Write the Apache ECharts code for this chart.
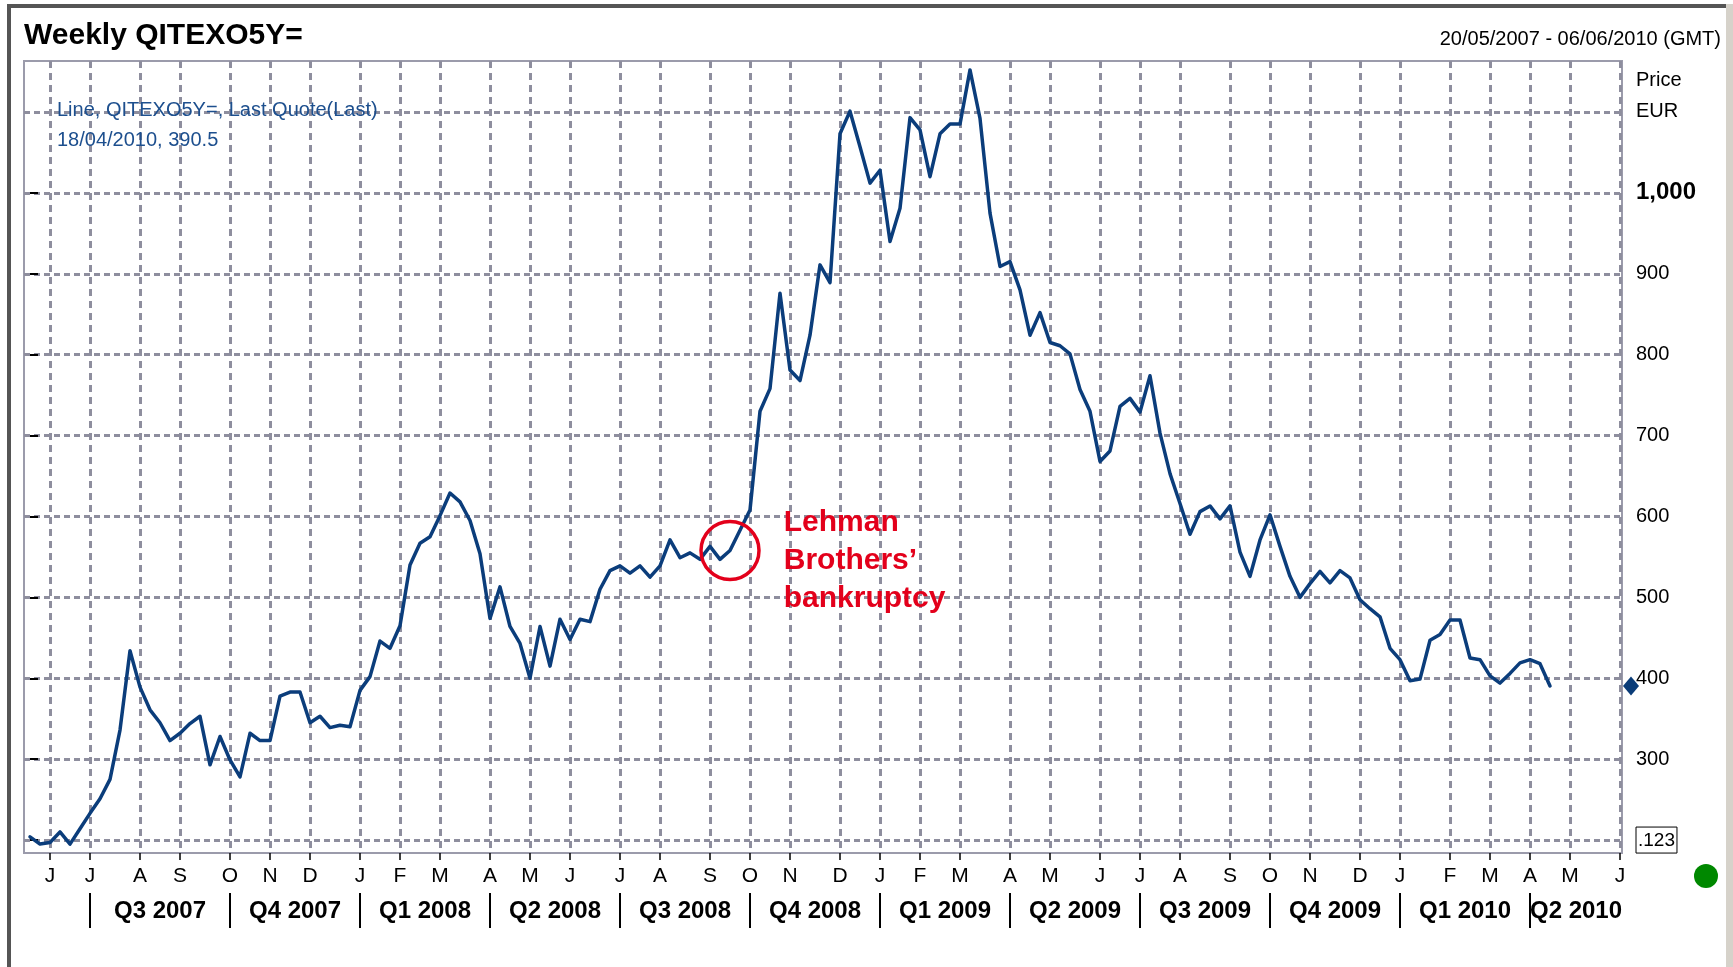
<!DOCTYPE html>
<html>
<head>
<meta charset="utf-8">
<title>Weekly QITEXO5Y=</title>
<script src="https://cdn.jsdelivr.net/npm/echarts@6.0.0/dist/echarts.min.js"></script>
<style>
html,body{margin:0;padding:0;background:#fff;}
#main{width:1733px;height:967px;}
</style>
</head>
<body>
<div id="main"></div>
<script>
// weekly last quote, week 0 = 20/05/2007 ... week 152 = 18/04/2010
var weekValues = [
  204,195,197,210,195,214,233,251,275,336,
  434,389,361,345,323,332,344,353,293,328,
  299,278,332,323,323,378,383,383,345,353,
  339,342,340,385,402,446,437,465,540,567,
  575,601,629,618,595,554,474,513,464,443,
  400,464,415,473,448,473,470,510,533,539,
  530,539,525,539,571,549,555,547,563,547,
  558,583,608,730,758,876,781,768,824,911,
  889,1073,1101,1057,1012,1028,940,981,1093,1078,
  1020,1073,1085,1085,1152,1092,975,909,915,880,
  824,852,815,811,801,757,730,668,681,736,
  746,729,774,703,653,616,578,606,613,597,
  613,556,526,571,602,563,526,500,517,532,
  518,533,524,497,486,476,437,423,397,399,
  447,454,472,472,425,423,403,394,406,419,
  423,418,390.5
];
var lastDate = '18/04/2010';
var lehmanWeek = 70;

// first week of each month on the axis
var monthWeeks = [2,6,11,15,20,24,28,
  33,37,41,46,50,54,59,63,68,72,76,81,
  85,89,93,98,102,107,111,115,120,124,128,133,
  137,142,146,150,154,159];
var monthLetters = ['J','J','A','S','O','N','D',
  'J','F','M','A','M','J','J','A','S','O','N','D',
  'J','F','M','A','M','J','J','A','S','O','N','D',
  'J','F','M','A','M','J'];
var quarterStarts = [6,20,33,46,59,72,85,98,111,124,137,150];
var quarterNames = ['Q3 2007','Q4 2007','Q1 2008','Q2 2008','Q3 2008','Q4 2008',
  'Q1 2009','Q2 2009','Q3 2009','Q4 2009','Q1 2010','Q2 2010'];
var priceTicks = [200,300,400,500,600,700,800,900,1000];
var priceLabels = [200,300,400,500,600,700,800,900,1000,1100];
var gridValues = [200,300,400,500,600,700,800,900,1000,1100];

var xMin = -0.6, xMax = 159.2, yMin = 184, yMax = 1163;
var font = 'Liberation Sans, Arial, sans-serif';
var blue = '#0b3d7b';
var gridGray = '#8e8e9e';
var seriesName = 'Line, QITEXO5Y=, Last Quote(Last)';

var quarterMids = quarterStarts.map(function (s, i) {
  var e = i < quarterStarts.length - 1 ? quarterStarts[i + 1] : xMax;
  return (s + e) / 2;
});
var seriesData = weekValues.map(function (v, i) { return [i, v]; });
var lastValue = weekValues[weekValues.length - 1];

var myChart = echarts.init(document.getElementById('main'));
var option = {
  animation: false,
  textStyle: { fontFamily: font },
  title: [
    { text: 'Weekly QITEXO5Y=', left: 24, top: 21, padding: 0,
      textStyle: { fontSize: 30, lineHeight: 30, fontWeight: 'bold', color: '#000', fontFamily: font } },
    { text: '20/05/2007 - 06/06/2010 (GMT)', right: 12, top: 29, padding: 0,
      textStyle: { fontSize: 20, lineHeight: 20, fontWeight: 'normal', color: '#000', fontFamily: font } }
  ],
  legend: {
    data: [seriesName],
    left: 52, top: 95, padding: 0, itemWidth: 0, icon: 'none', selectedMode: false,
    formatter: function (name) { return name + '\n' + lastDate + ', ' + lastValue; },
    textStyle: { fontSize: 20, lineHeight: 30, color: '#1d4f8e', fontFamily: font }
  },
  grid: {
    left: 24, top: 61, right: 111, bottom: 114, show: true,
    borderColor: '#9b9bab', borderWidth: 2, backgroundColor: '#fff',
    outerBoundsMode: 'none'
  },
  xAxis: [
    {
      type: 'value', min: xMin, max: xMax, position: 'bottom',
      axisLine: { show: false },
      axisTick: { show: true, customValues: monthWeeks, length: 7, lineStyle: { color: '#000', width: 1.5 } },
      axisLabel: {
        customValues: monthWeeks, margin: 13, fontSize: 21, color: '#000', fontFamily: font,
        formatter: function (v) { var i = monthWeeks.indexOf(v); return i >= 0 ? monthLetters[i] : ''; }
      },
      splitLine: { show: true, lineStyle: { color: gridGray, width: 3, type: [7, 5] } }
    },
    {
      type: 'value', min: xMin, max: xMax, position: 'bottom', offset: 40,
      axisLine: { show: false },
      axisTick: { show: true, customValues: quarterStarts, length: 35, lineStyle: { color: '#000', width: 2 } },
      axisLabel: {
        customValues: quarterMids, margin: 6, fontSize: 24, fontWeight: 'bold', color: '#000', fontFamily: font,
        formatter: function (v) {
          for (var i = 0; i < quarterMids.length; i++) {
            if (Math.abs(quarterMids[i] - v) < 0.01) return quarterNames[i];
          }
          return '';
        }
      },
      splitLine: { show: false }
    }
  ],
  yAxis: [
    {
      type: 'value', min: yMin, max: yMax, position: 'right',
      axisLine: { show: false },
      axisTick: { show: true, customValues: priceTicks, length: 8, lineStyle: { color: '#000', width: 2 } },
      axisLabel: {
        customValues: priceLabels, margin: 14, fontSize: 20, color: '#000', fontFamily: font,
        formatter: function (v) {
          if (v === 1000) return '{big|1,000}';
          if (v === 200) return '{box|.123}';
          if (v === 1100) return 'EUR';
          return String(v);
        },
        rich: {
          big: { fontSize: 24, fontWeight: 'bold', color: '#000', fontFamily: font },
          box: { fontSize: 19, color: '#000', borderColor: '#000', borderWidth: 1, padding: [4, 2, 3, 2], fontFamily: font }
        }
      },
      splitLine: { show: false }
    },
    {
      // only carries the horizontal grid lines
      type: 'value', min: yMin, max: yMax, position: 'left',
      axisLine: { show: false },
      axisTick: { show: false, length: 0, customValues: gridValues, lineStyle: { color: 'rgba(0,0,0,0)' } },
      axisLabel: { show: false },
      splitLine: { show: true, lineStyle: { color: gridGray, width: 3, type: [6, 4] } }
    }
  ],
  series: [
    {
      name: seriesName,
      type: 'line',
      data: seriesData,
      showSymbol: false,
      symbol: 'none',
      lineStyle: { color: blue, width: 3.5, join: 'round', cap: 'round' },
      itemStyle: { color: blue },
      z: 3,
      markPoint: {
        silent: true,
        data: [{
          coord: [lehmanWeek, weekValues[lehmanWeek]],
          symbol: 'circle', symbolSize: 58,
          itemStyle: { color: 'rgba(0,0,0,0)', borderColor: '#e3001b', borderWidth: 3.5 },
          label: {
            show: true, position: 'right', distance: 23, offset: [0, 10],
            formatter: 'Lehman\nBrothers\u2019\nbankruptcy',
            color: '#e3001b', fontSize: 30, lineHeight: 38, fontWeight: 'bold', fontFamily: font
          }
        }]
      }
    },
    {
      name: 'last',
      type: 'scatter',
      clip: false,
      data: [[xMax, lastValue]],
      symbol: 'diamond', symbolSize: [16, 19], symbolOffset: [9, 0],
      itemStyle: { color: '#0a3c78', opacity: 1 },
      z: 5, silent: true
    }
  ],
  graphic: [
    { type: 'rect', shape: { x: 7, y: 4, width: 1720, height: 4 }, style: { fill: '#555' } },
    { type: 'rect', shape: { x: 7, y: 4, width: 4, height: 963 }, style: { fill: '#555' } },
    { type: 'rect', shape: { x: 1726, y: 4, width: 7, height: 963 }, style: { fill: '#d6d2ca' } },
    { type: 'text', left: 1636, top: 70, style: { text: 'Price', fontSize: 20, fill: '#000', fontFamily: font } },
    { type: 'circle', shape: { cx: 1706, cy: 876, r: 12 }, style: { fill: '#008800' } }
  ]
};
myChart.setOption(option);
</script>
</body>
</html>
